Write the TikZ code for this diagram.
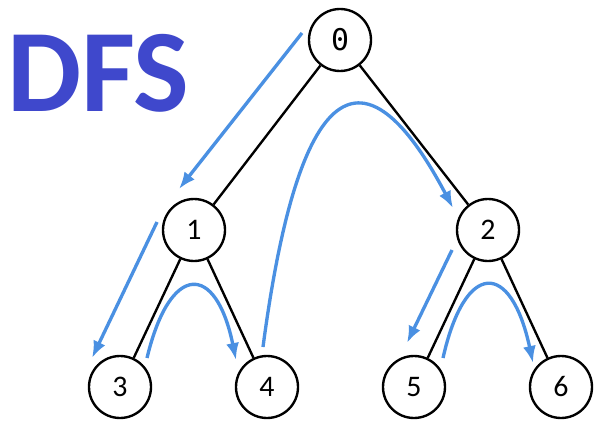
\documentclass[tikz,border=0pt]{standalone}
\usepackage{fontspec}
\setmainfont{Carlito}
\newfontfamily\zerofont{DejaVu Sans Mono}
\usetikzlibrary{arrows, arrows.meta, positioning, calc}
\definecolor{dfsblue}{RGB}{63,72,204}
\definecolor{walkblue}{RGB}{74,144,226}

\begin{document}
\begin{tikzpicture}[node distance = 3.8cm, minimum size=1.24cm, line width=1.35pt,
    vertex/.style={circle, draw=black, inner sep=0pt, font=\fontsize{17}{17}\selectfont},
    walk/.style={draw=walkblue, line width=1.9pt, -{Latex[length=3.4mm, width=2.6mm]}}]
  \useasboundingbox (0,0) rectangle (12.12,-8.46);

  \node[anchor=base west, inner sep=0pt, minimum size=0pt, text=dfsblue,
        font=\fontsize{67}{67}\selectfont\bfseries] at (0.12,-2.24) (dfs) {DFS};

  \node[vertex] at (6.8,-0.8) (n0) {\zerofont 0};
  \node[vertex, below of=n0, xshift=-2.92cm] (n1) {1};
  \node[vertex, below of=n0, xshift=2.96cm] (n2) {2};

  \begin{scope}[node distance = 3.14cm]
    \node[vertex, below of=n1, xshift=-1.48cm] (n3) {3};
    \node[vertex, below of=n1, xshift=1.46cm] (n4) {4};
    \node[vertex, below of=n2, xshift=-1.48cm] (n5) {5};
    \node[vertex, below of=n2, xshift=1.46cm] (n6) {6};
  \end{scope}

  \draw (n0)--(n1);
  \draw (n0)--(n2);
  \draw (n1)--(n3);
  \draw (n1)--(n4);
  \draw (n2)--(n5);
  \draw (n2)--(n6);

  % traversal order
  \draw[walk] ($(n0)+(-0.76,0.14)$) -- ($(n1)+(-0.3,0.82)$);
  \draw[walk] ($(n1)+(-0.74,0.16)$) -- ($(n3)+(-0.56,0.58)$);
  \draw[walk] ($(n3)+(0.54,0.58)$) .. controls ($(n3)+(1.0,2.5)$) and ($(n4)+(-1.02,2.5)$) .. ($(n4)+(-0.62,0.54)$);
  \draw[walk] ($(n4)+(-0.08,0.8)$) .. controls ($(n4)+(0.72,6.84)$) and ($(n2)+(-2.26,3.4)$) .. ($(n2)+(-0.7,0.44)$);
  \draw[walk] ($(n2)+(-0.72,-0.4)$) -- ($(n5)+(-0.14,0.88)$);
  \draw[walk] ($(n5)+(0.58,0.58)$) .. controls ($(n5)+(1.02,2.54)$) and ($(n6)+(-1.0,2.54)$) .. ($(n6)+(-0.56,0.48)$);

\end{tikzpicture}
\end{document}
